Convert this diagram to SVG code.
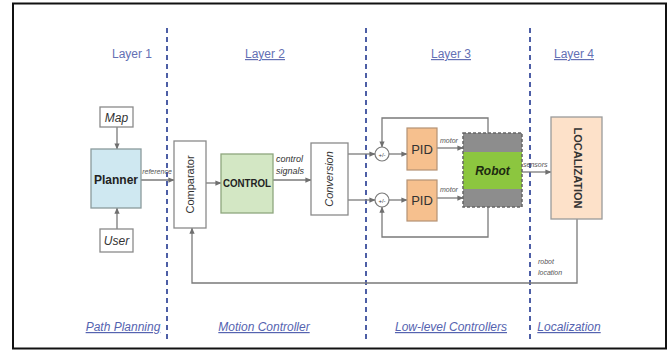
<svg xmlns="http://www.w3.org/2000/svg" width="672" height="351" viewBox="0 0 672 351">
<defs>
<marker id="ah" viewBox="0 0 8 8" refX="7.5" refY="4" markerWidth="6" markerHeight="6" orient="auto" markerUnits="userSpaceOnUse">
<path d="M0,0.5 L8,4 L0,7.5 Z" fill="#6f6f6f"/>
</marker>
<style>
text{font-family:"Liberation Sans",Arial,sans-serif;}
.lay{font-size:12px;fill:#6470b4;text-anchor:middle;}
.u{text-decoration:underline;}
.bot{font-size:12px;fill:#5563b0;font-style:italic;text-decoration:underline;text-anchor:middle;}
.div{stroke:#4d5ea6;stroke-width:2;stroke-dasharray:5 4;fill:none;}
.box{fill:#fff;stroke:#8a8a8a;stroke-width:1.3;}
.ln{fill:none;stroke:#7a7a7a;stroke-width:1.3;}
.arr{fill:none;stroke:#7a7a7a;stroke-width:1.3;marker-end:url(#ah);}
.sm{font-size:7px;fill:#555;font-style:italic;}
.lbl{font-size:9px;fill:#333;font-style:italic;}
</style>
</defs>
<rect x="13" y="3.5" width="653" height="345" fill="#fff" stroke="#111" stroke-width="2"/>

<g id="dividers">
<line class="div" x1="167" y1="28" x2="167" y2="341"/>
<line class="div" x1="366" y1="28" x2="366" y2="341"/>
<line class="div" x1="530" y1="28" x2="530" y2="341"/>
</g>

<g id="labels">
<text class="lay" x="132" y="58">Layer 1</text>
<text class="lay u" x="265" y="58">Layer 2</text>
<text class="lay u" x="451" y="58">Layer 3</text>
<text class="lay u" x="574" y="58">Layer 4</text>
<text class="bot" x="123" y="331">Path Planning</text>
<text class="bot" x="264" y="331">Motion Controller</text>
<text class="bot" x="451" y="331">Low-level Controllers</text>
<text class="bot" x="569" y="331">Localization</text>
</g>

<g id="connectors">
<line class="arr" x1="117" y1="127" x2="117" y2="149"/>
<line class="arr" x1="117" y1="229" x2="117" y2="208"/>
<line class="arr" x1="141" y1="180" x2="174" y2="180"/>
<line class="arr" x1="206" y1="183" x2="221" y2="183"/>
<line class="arr" x1="273" y1="180" x2="311" y2="180"/>
<line class="arr" x1="348" y1="154" x2="375" y2="154"/>
<line class="arr" x1="348" y1="200" x2="375" y2="200"/>
<line class="arr" x1="389" y1="154" x2="407" y2="154"/>
<line class="arr" x1="389" y1="200" x2="407" y2="200"/>
<line class="arr" x1="437" y1="148" x2="463" y2="148"/>
<line class="arr" x1="437" y1="198" x2="463" y2="198"/>
<polyline class="arr" points="488,133 488,118 382,118 382,147"/>
<polyline class="arr" points="488,207 488,237 382,237 382,207"/>
<line class="arr" x1="522" y1="172" x2="551" y2="172"/>
<polyline class="arr" points="577,219 577,283 192,283 192,228"/>
<text class="sm" x="157" y="174" text-anchor="middle">reference</text>
<text class="lbl" x="276" y="162">control</text>
<text class="lbl" x="276" y="174">signals</text>
<text class="sm" x="440" y="143">motor</text>
<text class="sm" x="440" y="192">motor</text>
<text class="sm" x="523" y="167">sensors</text>
<text class="sm" x="538" y="264">robot</text>
<text class="sm" x="538" y="275">location</text>
</g>

<g id="map">
<rect class="box" x="100" y="107" width="33" height="20"/>
<text x="116.5" y="122" font-size="12" font-style="italic" fill="#333" text-anchor="middle">Map</text>
</g>
<g id="planner">
<rect x="91" y="149" width="50" height="59" fill="#cfe8f1" stroke="#8a9a9c" stroke-width="1.3"/>
<text x="116" y="184" font-size="12" font-weight="bold" fill="#222" text-anchor="middle">Planner</text>
</g>
<g id="user">
<rect class="box" x="100" y="229" width="33" height="23"/>
<text x="116.5" y="245" font-size="12" font-style="italic" fill="#333" text-anchor="middle">User</text>
</g>
<g id="comparator">
<rect class="box" x="174" y="141" width="32" height="87"/>
<text transform="translate(194,184.5) rotate(-90)" font-size="11" fill="#333" text-anchor="middle">Comparator</text>
</g>
<g id="control">
<rect x="221" y="154" width="52" height="59" fill="#d3e7c4" stroke="#8ea67e" stroke-width="1.3"/>
<text x="247" y="187" font-size="10.5" font-weight="bold" fill="#222" text-anchor="middle" textLength="48" lengthAdjust="spacingAndGlyphs">CONTROL</text>
</g>
<g id="conversion">
<rect class="box" x="311" y="143" width="37" height="72"/>
<text transform="translate(333,179) rotate(-90)" font-size="11" font-style="italic" fill="#333" text-anchor="middle">Conversion</text>
</g>
<g id="sum1">
<circle cx="382" cy="154" r="7" fill="#fff" stroke="#7a7a7a" stroke-width="1.2"/>
<text x="382" y="156.5" font-size="6" fill="#444" text-anchor="middle">+/-</text>
</g>
<g id="sum2">
<circle cx="382" cy="200" r="7" fill="#fff" stroke="#7a7a7a" stroke-width="1.2"/>
<text x="382" y="202.5" font-size="6" fill="#444" text-anchor="middle">+/-</text>
</g>
<g id="pid1">
<rect x="407" y="128" width="30" height="42" fill="#f6c08e" stroke="#b49274" stroke-width="1.2"/>
<text x="422" y="154" font-size="13" fill="#333" text-anchor="middle">PID</text>
</g>
<g id="pid2">
<rect x="407" y="180" width="30" height="41" fill="#f6c08e" stroke="#b49274" stroke-width="1.2"/>
<text x="422" y="205" font-size="13" fill="#333" text-anchor="middle">PID</text>
</g>
<g id="robot">
<rect x="463" y="133" width="59" height="19" fill="#8d8d8d"/>
<rect x="463" y="152" width="59" height="37" fill="#8cc63f"/>
<rect x="463" y="189" width="59" height="18" fill="#8d8d8d"/>
<rect x="463" y="133" width="59" height="74" fill="none" stroke="#666" stroke-width="1.5" stroke-dasharray="3 2"/>
<text x="492.5" y="175" font-size="12" font-weight="bold" font-style="italic" fill="#1d2a10" text-anchor="middle">Robot</text>
</g>
<g id="localization">
<rect x="551" y="117" width="51" height="102" fill="#fde1c9" stroke="#9a9a9a" stroke-width="1.3"/>
<text transform="translate(574,168) rotate(90)" font-size="11" font-weight="bold" fill="#333" text-anchor="middle">LOCALIZATION</text>
</g>
</svg>
